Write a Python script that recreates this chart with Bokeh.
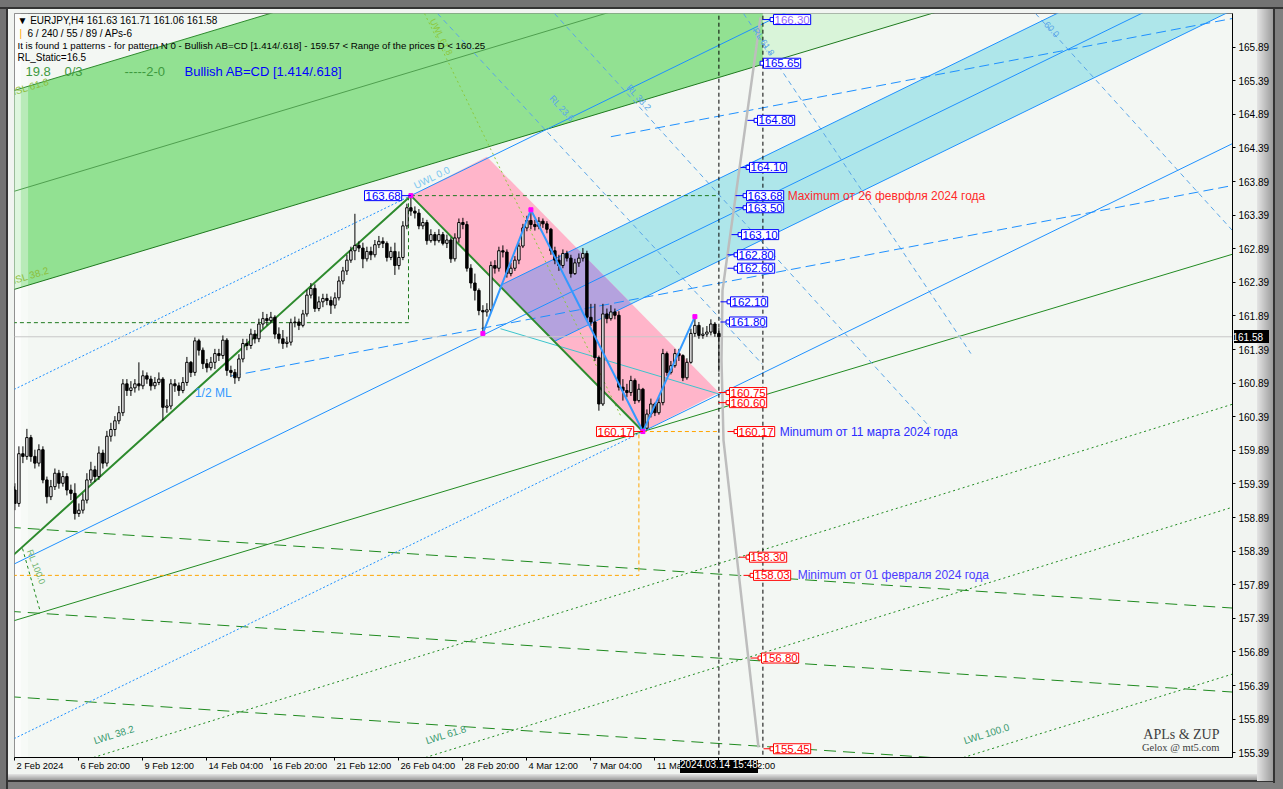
import math
from bokeh.plotting import figure
from bokeh.models import Range1d, FixedTicker, Label, PrintfTickFormatter, LinearAxis
from bokeh.embed import file_html
from bokeh.resources import INLINE

# ---------------- data ----------------
OPEN0 = 159.35
CLOSE = [159.30, 159.10, 159.84, 159.80, 160.08, 159.80, 159.70, 159.90, 159.45, 159.20,
         159.35, 159.55, 159.40, 159.50, 159.30, 159.25, 158.95, 159.00, 159.15, 159.45,
         159.60, 159.50, 159.85, 159.70, 160.10, 160.20, 160.33, 160.45, 160.88, 160.78,
         160.82, 160.88, 160.85, 161.00, 160.95, 160.85, 160.90, 160.95, 160.53, 160.55,
         160.88, 160.85, 160.78, 160.90, 161.20, 161.05, 161.52, 161.38, 161.18, 161.12,
         161.20, 161.33, 161.30, 161.53, 161.08, 161.05, 160.97, 161.25, 161.48, 161.45,
         161.62, 161.55, 161.77, 161.85, 161.82, 161.87, 161.62, 161.55, 161.48, 161.50,
         161.79, 161.80, 161.75, 161.92, 162.20, 162.30, 162.00, 162.10, 162.15, 162.12,
         162.05, 162.16, 162.41, 162.56, 162.72, 162.86, 162.94, 162.90, 162.74, 162.85,
         162.80, 162.95, 163.00, 162.97, 162.76, 162.85, 162.64, 162.76, 163.23, 163.50,
         163.45, 163.42, 163.23, 163.28, 163.01, 163.10, 163.01, 163.10, 162.97, 163.02,
         162.74, 163.05, 163.28, 163.25, 162.60, 162.38, 162.27, 161.97, 161.95, 161.98,
         162.64, 162.60, 162.86, 162.84, 162.52, 162.60, 162.72, 162.93, 163.20, 163.31,
         163.25, 163.22, 163.30, 163.26, 163.18, 162.86, 162.72, 162.64, 162.82, 162.75,
         162.52, 162.68, 162.75, 162.82, 161.87, 161.80, 161.27, 160.58, 161.92, 161.85,
         161.95, 161.90, 160.83, 160.78, 160.75, 160.93, 160.63, 160.80, 160.22, 160.43,
         160.58, 160.45, 160.60, 161.33, 161.05, 161.15, 161.33, 161.30, 160.97, 161.20,
         161.63, 161.75, 161.60, 161.62, 161.65, 161.77, 161.63, 161.58]
HIGH = [159.45, 159.40, 159.95, 159.95, 160.21, 160.12, 159.90, 159.98, 159.95, 159.50,
        159.45, 159.62, 159.60, 159.58, 159.55, 159.38, 159.40, 159.10, 159.25, 159.55,
        159.72, 159.66, 159.95, 159.90, 160.18, 160.30, 160.40, 160.55, 160.95, 160.95,
        160.92, 160.95, 161.20, 161.08, 161.05, 161.00, 160.98, 161.05, 160.98, 160.65,
        160.95, 160.95, 160.90, 160.98, 161.28, 161.22, 161.57, 161.55, 161.42, 161.25,
        161.28, 161.40, 161.40, 161.60, 161.56, 161.15, 161.10, 161.32, 161.55, 161.55,
        161.70, 161.68, 161.85, 161.95, 161.92, 161.95, 161.90, 161.72, 161.68, 161.58,
        161.85, 161.88, 161.85, 161.98, 162.28, 162.38, 162.36, 162.18, 162.22, 162.22,
        162.18, 162.24, 162.48, 162.62, 162.80, 162.92, 163.41, 163.00, 162.98, 162.92,
        162.92, 163.02, 163.08, 163.06, 163.00, 162.92, 162.98, 162.85, 163.30, 163.56,
        163.68, 163.52, 163.48, 163.35, 163.32, 163.18, 163.14, 163.18, 163.14, 163.10,
        163.06, 163.12, 163.34, 163.35, 163.30, 162.66, 162.52, 162.30, 162.05, 162.08,
        162.70, 162.72, 162.92, 162.94, 162.88, 162.68, 162.78, 162.98, 163.26, 163.38,
        163.47, 163.32, 163.36, 163.34, 163.30, 163.20, 162.92, 162.80, 162.88, 162.86,
        162.80, 162.74, 162.82, 162.90, 162.86, 162.07, 162.07, 161.30, 162.07, 162.00,
        162.05, 162.00, 161.96, 160.95, 160.88, 161.00, 160.96, 160.88, 160.82, 160.50,
        160.66, 160.60, 160.68, 161.40, 161.36, 161.22, 161.40, 161.40, 161.32, 161.26,
        161.70, 161.88, 161.80, 161.72, 161.74, 161.84, 161.80, 161.71]
LOW = [159.20, 159.00, 159.05, 159.70, 159.75, 159.72, 159.62, 159.65, 159.40, 159.10,
       159.15, 159.30, 159.32, 159.35, 159.22, 159.15, 158.86, 158.90, 158.95, 159.10,
       159.40, 159.42, 159.45, 159.62, 159.65, 160.02, 160.10, 160.28, 160.40, 160.70,
       160.70, 160.75, 160.78, 160.80, 160.88, 160.78, 160.80, 160.86, 160.33, 160.45,
       160.50, 160.76, 160.70, 160.74, 160.85, 160.98, 161.00, 161.30, 161.10, 161.05,
       161.08, 161.10, 161.22, 161.25, 161.00, 160.98, 160.88, 160.92, 161.20, 161.38,
       161.40, 161.48, 161.50, 161.70, 161.75, 161.78, 161.55, 161.48, 161.40, 161.42,
       161.45, 161.72, 161.68, 161.72, 161.88, 162.15, 161.95, 161.96, 162.02, 162.05,
       161.92, 162.00, 162.12, 162.36, 162.50, 162.68, 162.72, 162.84, 162.60, 162.70,
       162.72, 162.76, 162.90, 162.90, 162.70, 162.72, 162.50, 162.58, 162.72, 163.18,
       163.38, 163.34, 163.18, 163.18, 162.95, 162.98, 162.94, 162.98, 162.94, 162.90,
       162.68, 162.70, 162.98, 163.18, 162.55, 162.30, 162.12, 161.90, 161.63, 161.88,
       161.94, 162.52, 162.55, 162.76, 162.46, 162.48, 162.56, 162.66, 162.90, 163.15,
       163.18, 163.16, 163.18, 163.20, 163.12, 162.80, 162.66, 162.56, 162.60, 162.70,
       162.46, 162.50, 162.62, 162.70, 161.82, 161.74, 161.22, 160.48, 160.55, 161.78,
       161.82, 161.84, 160.78, 160.63, 160.68, 160.70, 160.58, 160.60, 160.17, 160.20,
       160.38, 160.40, 160.42, 160.56, 161.00, 161.02, 161.12, 161.22, 160.92, 160.94,
       161.18, 161.58, 161.55, 161.55, 161.58, 161.60, 161.58, 161.06]

TIME_TICK_BARS = [1, 17, 33, 49, 65, 81, 97, 113, 129, 145, 161, 177]
TIME_TICK_LABELS = ["2 Feb 2024", "6 Feb 20:00", "9 Feb 12:00", "14 Feb 04:00", "16 Feb 20:00",
                    "21 Feb 12:00", "26 Feb 04:00", "28 Feb 20:00", "4 Mar 12:00", "7 Mar 04:00",
                    "11 Mar 20:00", "14 Mar 12:00"]
CROSSHAIR_BAR = 177
CROSSHAIR_TEXT = "2024.03.14 15:48"
PRICE_TICKS = [155.39, 155.89, 156.39, 156.89, 157.39, 157.89, 158.39, 158.89, 159.39, 159.89,
               160.39, 160.89, 161.39, 161.89, 162.39, 162.89, 163.39, 163.89, 164.39, 164.89,
               165.39, 165.89]
BID = 161.58

# pattern pivots (bar index, price)
PIV_O = (-5, 158.03)
PIV_X = (100, 163.68)
PIV_A = (118, 161.63)
PIV_B = (130, 163.47)
PIV_C = (158, 160.17)
PIV_D = (171, 161.88)
CHANNEL_END = (177, 160.75)
BAND_LEVEL = 0.236

# green sliding lines
ISL_SLOPE = 0.0179
ISL_AT_BAR0 = [165.23, 163.73, 162.27]
LWL_DASH_SLOPE = -0.00393
LWL_DASH_AT_BAR0 = [158.744, 157.494, 156.224]
LWL_DOT_SLOPE = 0.01846
LWL_DOT_BASE_BARS = [20.65, 103.65, 238.15]
LWL_DOT_BASE_PRICE = 155.32
LWL_NAMES = ["LWL 38.2", "LWL 61.8", "LWL 100.0"]

SCHIFF_SLOPE = 0.01132
SCHIFF_ANCHOR_BARS = [58, 160]
SCHIFF_ANCHOR_PRICES = [161.03, 164.67]
SCHIFF_START_BARS = [55, 150]

# reaction lines (start bar, start price, end bar, end price)
RL_NAMES = ["RL 23.6", "RL 38.2", "RL 61.8", "60.0"]
RL_START_BARS = [106.65, 135.9, 183.15, 256.15]
RL_START_PRICES = [166.39, 166.39, 166.39, 166.39]
RL_END_BARS = [187.9, 230.0, 240.0, 305.4]
RL_END_PRICES = [161.17, 160.22, 161.33, 163.16]
RL_LABEL_BARS = [134.15, 153.4, 184.95, 258.15]
RL_LABEL_PRICES = [165.10, 165.26, 166.12, 166.22]

# green reaction line at far left
RL100_BARS = [2.9, 7.4]
RL100_PRICES = [158.43, 157.48]

# upper warning line (dotted yellow-green)
UWL_BARS = [103.4, 152.4]
UWL_PRICES = [166.39, 160.41]

# teal line inside the channel
TEAL_BARS = [122.4, 176.9]
TEAL_PRICES = [161.70, 160.73]

# time-price curve
CURVE_BARS = [187.4, 177.9, 177.65, 178.15, 186.9]
CURVE_PRICES = [166.33, 162.27, 161.23, 160.04, 155.47]

# right-hand price tags
TAG_PRICES = [166.30, 165.65, 164.80, 164.10, 163.68, 163.50, 163.10, 162.80, 162.60,
              162.10, 161.80, 160.75, 160.60, 160.17, 158.30, 158.03, 156.80, 155.45]
TAG_BOX_BARS = [190.65, 188.15, 186.65, 184.65, 183.9, 183.9, 182.65, 181.65, 181.65,
                179.9, 179.65, 179.65, 179.65, 181.65, 184.65, 185.65, 187.65, 190.65]
TAG_FROM_BARS = [187.9, 187.9, 184.15, 182.4, 181.15, 181.15, 180.15, 179.15, 179.15,
                 177.4, 177.4, 176.9, 176.9, 179.15, 182.15, 183.15, 184.9, 188.15]
VLINE_BARS = [177, 188]

# ---------------- figure ----------------
W, H = 1283, 789
FL, FT, FR, FB = 14, 13, 1232, 757          # frame edges in page pixels
X0, X1 = 0.9, 305.4
Y0, Y1 = 155.32, 166.39

# window chrome painted behind the (transparent) canvas border
CHROME = ", ".join([
    "linear-gradient(#000,#000) 680px 760px / 78px 13px no-repeat",
    "linear-gradient(#000,#000) 1234px 330px / 35px 13px no-repeat",
    "linear-gradient(#737373,#737373) 0 0 / 100% 7px no-repeat",
    "linear-gradient(#333,#333) 0 7px / 100% 2px no-repeat",
    "linear-gradient(#737373,#737373) 0 0 / 6px 100% no-repeat",
    "linear-gradient(#333,#333) 6px 7px / 2px 100% no-repeat",
    "linear-gradient(to right,#E4E4E4,#9C9C9C) 1257px 9px / 16px 772px no-repeat",
    "linear-gradient(#333,#333) 1273px 9px / 2px 774px no-repeat",
    "linear-gradient(#808080,#808080) 1275px 0 / 8px 100% no-repeat",
    "linear-gradient(to bottom,#E4E4E4,#9C9C9C) 8px 774px / 1265px 6px no-repeat",
    "linear-gradient(#333,#333) 6px 780px / 1269px 2px no-repeat",
    "linear-gradient(#808080,#808080) 0 782px / 100% 7px no-repeat",
    "#F1F4F1",
])

p = figure(width=W, height=H, x_range=Range1d(X0, X1), y_range=Range1d(Y0, Y1),
           output_backend="svg", toolbar_location=None, y_axis_location="right",
           min_border_left=FL, min_border_top=FT, min_border_right=W - FR, min_border_bottom=H - FB,
           background_fill_color="#F3F7F3", border_fill_alpha=0.0,
           styles={"background": CHROME})
p.xgrid.visible = False
p.ygrid.visible = False
p.outline_line_color = "#7A7A7A"

AF = "Liberation Sans"
ya = p.yaxis[0]
ya.ticker = FixedTicker(ticks=PRICE_TICKS)
ya.formatter = PrintfTickFormatter(format="%.2f")
ya.major_tick_in = 0
ya.major_tick_out = 3
ya.minor_tick_line_color = None
ya.major_label_standoff = 3
ya.major_label_text_font = AF
ya.major_label_text_font_size = "10px"
ya.major_label_text_color = "#000000"
ya.axis_line_color = "#000000"

bid_axis = LinearAxis(ticker=FixedTicker(ticks=[BID]), formatter=PrintfTickFormatter(format="%.2f"),
                      axis_line_color=None, major_tick_line_color=None, minor_tick_line_color=None,
                      major_label_standoff=-46, major_label_text_font=AF,
                      major_label_text_font_size="10px", major_label_text_color="#FFFFFF")
p.add_layout(bid_axis, "right")

xa = p.xaxis[0]
xa.ticker = FixedTicker(ticks=TIME_TICK_BARS)
xa.major_label_overrides = {t: "" for t in TIME_TICK_BARS}
xa.major_label_text_font_size = "1px"
xa.major_label_standoff = 0
xa.major_tick_in = 0
xa.major_tick_out = 3
xa.minor_tick_line_color = None
xa.axis_line_color = "#000000"

CW = {"0": .556, "1": .556, "2": .556, "3": .556, "4": .556, "5": .556, "6": .556, "7": .556,
      "8": .556, "9": .556, " ": .278, ":": .278, "F": .611, "e": .556, "b": .556, "M": .833,
      "a": .556, "r": .333}
TFS = 9.3
centers = [round(tb + (1.5 + sum(CW.get(ch, .55) for ch in tl) * TFS / 2) / 4, 3)
           for tb, tl in zip(TIME_TICK_BARS, TIME_TICK_LABELS)]
date_axis = LinearAxis(ticker=FixedTicker(ticks=centers),
                       major_label_overrides={c: tl for c, tl in zip(centers, TIME_TICK_LABELS)},
                       axis_line_color=None, major_tick_line_color=None, minor_tick_line_color=None,
                       major_label_standoff=-6, major_label_text_font=AF,
                       major_label_text_font_size=f"{TFS}px", major_label_text_color="#000000")
p.add_layout(date_axis, "below")
cross_axis = LinearAxis(ticker=FixedTicker(ticks=[CROSSHAIR_BAR]),
                        major_label_overrides={CROSSHAIR_BAR: CROSSHAIR_TEXT},
                        axis_line_color=None, major_tick_line_color=None, minor_tick_line_color=None,
                        major_label_standoff=-21, major_label_text_font=AF,
                        major_label_text_font_size="10px", major_label_text_color="#FFFFFF")
p.add_layout(cross_axis, "below")


def sx(px):
    return px - FL


def sy(py):
    return FB - py


FAR = 330.0
LEFT = -10.0


def at(pt, k, b):
    return pt[1] + k * (b - pt[0])


def clip(poly, f):
    out = []
    n = len(poly)
    for i in range(n):
        P, Q = poly[i], poly[(i + 1) % n]
        fp, fq = f(P), f(Q)
        if fp >= 0:
            out.append(P)
        if (fp >= 0) != (fq >= 0):
            t = fp / (fp - fq)
            out.append((P[0] + t * (Q[0] - P[0]), P[1] + t * (Q[1] - P[1])))
    return out


# --- green ISL band ---
isl_u = lambda b: ISL_AT_BAR0[0] + ISL_SLOPE * b
isl_m = lambda b: ISL_AT_BAR0[1] + ISL_SLOPE * b
isl_l = lambda b: ISL_AT_BAR0[2] + ISL_SLOPE * b
split = VLINE_BARS[1]
p.patch([LEFT, split, split, LEFT], [isl_u(LEFT), isl_u(split), isl_l(split), isl_l(LEFT)],
        fill_color="#92E192", line_color=None)
p.patch([split, FAR, FAR, split], [isl_u(split), isl_u(FAR), isl_l(FAR), isl_l(split)],
        fill_color="#D9F4D9", line_color=None)
# pale strip along the left edge
p.quad(left=[X0, X0 + 1.6], right=[X0 + 1.6, X0 + 3.4], bottom=[Y0, Y0], top=[Y1, Y1],
       fill_color="#FFFFFF", fill_alpha=[0.7, 0.35], line_color=None)
p.line([LEFT, FAR], [isl_u(LEFT), isl_u(FAR)], line_color="#2E8B2E", line_width=1)
p.line([LEFT, FAR], [isl_m(LEFT), isl_m(FAR)], line_color="#4F9F4F", line_width=1)
p.line([LEFT, FAR], [isl_l(LEFT), isl_l(FAR)], line_color="#1F7A1F", line_width=1)

# --- pitchfork geometry ---
mid = ((PIV_X[0] + PIV_C[0]) / 2, (PIV_X[1] + PIV_C[1]) / 2)
k = (mid[1] - PIV_O[1]) / (mid[0] - PIV_O[0])
med = lambda b: at(mid, k, b)
off = PIV_X[1] - med(PIV_X[0])
ul = lambda b: med(b) + BAND_LEVEL * off
ll = lambda b: med(b) - BAND_LEVEL * off
mxc = (PIV_C[1] - PIV_X[1]) / (PIV_C[0] - PIV_X[0])
xc = lambda b: at(PIV_X, mxc, b)


def meet(fa):
    lo, hi = PIV_X[0], 300.0
    for _ in range(60):
        m = (lo + hi) / 2
        if (fa(lo) - xc(lo)) * (fa(m) - xc(m)) <= 0:
            hi = m
        else:
            lo = m
    return (lo + hi) / 2


b_ul, b_ll = meet(ul), meet(ll)
band = [(b_ul, ul(b_ul)), (FAR, ul(FAR)), (FAR, ll(FAR)), (b_ll, ll(b_ll))]
p.patch([q[0] for q in band], [q[1] for q in band], fill_color="#AEE6EA", line_color=None)

# --- pink channel ---
P2 = (PIV_X[0] + CHANNEL_END[0] - PIV_C[0], PIV_X[1] + CHANNEL_END[1] - PIV_C[1])
pink = [PIV_X, P2, CHANNEL_END, PIV_C]
p.patch([q[0] for q in pink], [q[1] for q in pink], fill_color="#FFB5CA", line_color=None)
ov = clip(pink, lambda q: ul(q[0]) - q[1])
ov = clip(ov, lambda q: q[1] - ll(q[0]))
if len(ov) >= 3:
    p.patch([q[0] for q in ov], [q[1] for q in ov], fill_color="#B4A2DE", line_color=None)
p.line(TEAL_BARS, TEAL_PRICES, line_color="#3CC4CC", line_width=1)

# --- dashed green LWL lines ---
for a0 in LWL_DASH_AT_BAR0:
    p.line([LEFT, FAR], [a0 + LWL_DASH_SLOPE * LEFT, a0 + LWL_DASH_SLOPE * FAR],
           line_color="#1F8A1F", line_width=1, line_dash="12 7")
for b0 in LWL_DOT_BASE_BARS:
    p.line([b0, FAR], [LWL_DOT_BASE_PRICE, LWL_DOT_BASE_PRICE + LWL_DOT_SLOPE * (FAR - b0)],
           line_color="#1F8A1F", line_width=1, line_dash="2 3")
p.line(RL100_BARS, RL100_PRICES, line_color="#1F8A1F", line_width=1, line_dash="3 3")

# line through C parallel to ISL
p.line([LEFT, FAR], [at(PIV_C, ISL_SLOPE, LEFT), at(PIV_C, ISL_SLOPE, FAR)],
       line_color="#228B22", line_width=1)

# upper warning line
p.line(UWL_BARS, UWL_PRICES, line_color="#8CC83C", line_width=1, line_dash="2 3")

# reaction lines
for sb, sp, eb, ep in zip(RL_START_BARS, RL_START_PRICES, RL_END_BARS, RL_END_PRICES):
    p.line([sb, eb], [sp, ep], line_color="#5AA5E8", line_width=1, line_dash="5 4")

# --- pitchfork lines ---
BLUE = "#1E90FF"
p.line([LEFT, FAR], [med(LEFT), med(FAR)], line_color=BLUE, line_width=1)
p.line([LEFT, PIV_X[0]], [at(PIV_X, k, LEFT), PIV_X[1]], line_color=BLUE, line_width=1, line_dash="2 2")
p.line([PIV_X[0], FAR], [PIV_X[1], at(PIV_X, k, FAR)], line_color=BLUE, line_width=1)
p.line([LEFT, PIV_C[0]], [at(PIV_C, k, LEFT), PIV_C[1]], line_color=BLUE, line_width=1, line_dash="2 2")
p.line([PIV_C[0], FAR], [PIV_C[1], at(PIV_C, k, FAR)], line_color=BLUE, line_width=1)
p.line([b_ul, FAR], [ul(b_ul), ul(FAR)], line_color=BLUE, line_width=1)
p.line([b_ll, FAR], [ll(b_ll), ll(FAR)], line_color=BLUE, line_width=1)

for ab, ap, sb in zip(SCHIFF_ANCHOR_BARS, SCHIFF_ANCHOR_PRICES, SCHIFF_START_BARS):
    p.line([sb, FAR], [ap + SCHIFF_SLOPE * (sb - ab), ap + SCHIFF_SLOPE * (FAR - ab)],
           line_color=BLUE, line_width=1, line_dash="10 5")

# --- helper boxes / levels ---
DG = "#1F7A1F"
p.line([LEFT, PIV_X[0] - 0.6, PIV_X[0] - 0.6], [161.79, 161.79, PIV_X[1]], line_color=DG,
       line_dash="4 3", line_width=1)
p.line([PIV_X[0], VLINE_BARS[0]], [PIV_X[1], PIV_X[1]], line_color=DG, line_dash="4 3", line_width=1)
OR = "#FFA500"
p.line([LEFT, PIV_C[0] - 1, PIV_C[0] - 1], [PIV_O[1], PIV_O[1], PIV_C[1]], line_color=OR,
       line_dash="4 3", line_width=1)
p.line([PIV_C[0], VLINE_BARS[0] - 0.5], [PIV_C[1], PIV_C[1]], line_color=OR, line_dash="4 3", line_width=1)

# thick ZUP lines
p.line([PIV_O[0], PIV_X[0], PIV_C[0]], [PIV_O[1], PIV_X[1], PIV_C[1]], line_color="#2E8B2E", line_width=2)

# bid line
p.line([LEFT, FAR], [BID, BID], line_color="#C8C8C8", line_width=1)

# vertical dashed lines
for vb in VLINE_BARS:
    p.line([vb, vb], [Y0 - 1, Y1 + 1], line_color="#000000", line_dash="4 3", line_width=1)

# time-price curve
p.line(CURVE_BARS, CURVE_PRICES, line_color="#BDBDBD", line_width=2.5)

# --- candles ---
n = len(CLOSE)
opens = [OPEN0] + CLOSE[:-1]
bars = list(range(n))
hi = [max(HIGH[i], opens[i], CLOSE[i]) for i in bars]
lo = [min(LOW[i], opens[i], CLOSE[i]) for i in bars]
p.segment(bars, hi, bars, lo, line_color="#000000", line_width=1)
up = [i for i in bars if CLOSE[i] >= opens[i]]
dn = [i for i in bars if CLOSE[i] < opens[i]]
p.vbar(x=up, width=0.6, top=[max(CLOSE[i], opens[i] + 0.006) for i in up], bottom=[opens[i] for i in up],
       fill_color="#FFFFFF", line_color="#000000", line_width=1)
p.vbar(x=dn, width=0.6, top=[opens[i] for i in dn], bottom=[CLOSE[i] for i in dn],
       fill_color="#000000", line_color="#000000", line_width=1)

# zigzag A-B-C-D
p.line([PIV_A[0], PIV_B[0], PIV_C[0], PIV_D[0]], [PIV_A[1], PIV_B[1], PIV_C[1], PIV_D[1]],
       line_color="#3399FF", line_width=2)
p.scatter([PIV_X[0], PIV_A[0], PIV_B[0], PIV_C[0], PIV_D[0]],
          [PIV_X[1], PIV_A[1], PIV_B[1], PIV_C[1], PIV_D[1]],
          marker="square", size=4, fill_color="#FF00FF", line_color="#FF00FF")

# --- price tags ---
TF = "Liberation Sans"
for pr, bb, fb in zip(TAG_PRICES, TAG_BOX_BARS, TAG_FROM_BARS):
    col = "#0000FF" if pr >= 161.8 else "#FF0000"
    tcol = "#9966FF" if pr > 166 else col
    p.line([fb, bb], [pr, pr], line_color=col, line_width=1)
    p.scatter([bb - 0.35], [pr], marker="square", size=4, fill_color="#FFFFFF", line_color=col)
    p.add_layout(Label(x=bb, y=pr, text=f"{pr:.2f}", text_align="left", text_baseline="middle",
                       text_font=TF, text_font_size="11.5px", text_color=tcol,
                       border_line_color=col, border_line_width=1, background_fill_color="#FFFFFF",
                       padding=1))

p.add_layout(Label(x=PIV_X[0] - 2.3, y=PIV_X[1], text="163.68", text_align="right", text_baseline="middle",
                   text_font=TF, text_font_size="11.5px", text_color="#0000FF",
                   border_line_color="#0000FF", background_fill_color="#FFFFFF", padding=1))
p.line([PIV_X[0] - 2.3, PIV_X[0]], [PIV_X[1], PIV_X[1]], line_color="#0000FF")
p.add_layout(Label(x=PIV_C[0] - 2.3, y=PIV_C[1], text="160.17", text_align="right", text_baseline="middle",
                   text_font=TF, text_font_size="11.5px", text_color="#FF0000",
                   border_line_color="#FF0000", background_fill_color="#FFFFFF", padding=1))
p.line([PIV_C[0] - 2.3, PIV_C[0]], [PIV_C[1], PIV_C[1]], line_color="#FF0000")

# annotations
p.add_layout(Label(x=194.2, y=PIV_X[1], text="Maximum от 26 феврфля 2024 года", text_baseline="middle",
                   text_font=TF, text_font_size="12px", text_color="#FF2A2A"))
p.add_layout(Label(x=192.2, y=PIV_C[1], text="Minumum от 11 марта 2024 года", text_baseline="middle",
                   text_font=TF, text_font_size="12px", text_color="#2B2BFF"))
p.add_layout(Label(x=196.7, y=PIV_O[1], text="Minimum от 01 февраля 2024 года", text_baseline="middle",
                   text_font=TF, text_font_size="12px", text_color="#4B3BFF"))
p.add_layout(Label(x=46, y=160.75, text="1/2 ML", text_baseline="middle",
                   text_font=TF, text_font_size="12px", text_color="#3399FF"))

for b0, nm in zip(LWL_DOT_BASE_BARS, LWL_NAMES):
    p.add_layout(Label(x=b0 + 0.5, y=LWL_DOT_BASE_PRICE + 0.17, text=nm, angle=math.atan(0.31),
                       text_font=TF, text_font_size="10px", text_color="#3A9A70"))
p.add_layout(Label(x=0.9, y=isl_l(0.9) + 0.05, text="ISL 38.2", angle=math.atan(0.3),
                   text_font=TF, text_font_size="10px", text_color="#8DBE3C"))
p.add_layout(Label(x=0.9, y=isl_u(0.9) - 0.1, text="ISL 61.8", angle=math.atan(0.3),
                   text_font=TF, text_font_size="10px", text_color="#8DBE3C"))
p.add_layout(Label(x=101.5, y=163.75, text="UWL 0.0", angle=math.atan(0.49),
                   text_font=TF, text_font_size="10px", text_color="#7EC8F0"))
p.add_layout(Label(x=UWL_BARS[0] + 0.8, y=UWL_PRICES[0] - 0.12, text="UWL 61.8", angle=-1.1,
                   text_font=TF, text_font_size="9px", text_color="#8CC83C"))
p.add_layout(Label(x=RL100_BARS[0] + 0.6, y=RL100_PRICES[0] - 0.05, text="RL 100.0", angle=-1.2,
                   text_font=TF, text_font_size="9px", text_color="#6DB36D"))
for bx, py, nm in zip(RL_LABEL_BARS, RL_LABEL_PRICES, RL_NAMES):
    ang = -0.98 if nm == "RL 61.8" else -0.83
    p.add_layout(Label(x=bx, y=py, text=nm, angle=ang, text_font=TF, text_font_size="9px",
                       text_color="#5AA5E8"))

# header
HF = "Liberation Sans"
p.add_layout(Label(x=sx(17), y=sy(20), x_units="screen", y_units="screen",
                   text="▼  EURJPY,H4  161.63 161.71 161.06 161.58",
                   text_baseline="middle", text_font=HF, text_font_size="10px", text_color="#000000"))
p.add_layout(Label(x=sx(19), y=sy(33), x_units="screen", y_units="screen", text="|",
                   text_baseline="middle", text_font=HF, text_font_size="10px", text_color="#FFA500"))
p.add_layout(Label(x=sx(27), y=sy(33), x_units="screen", y_units="screen", text="6 / 240 / 55 / 89 / APs-6",
                   text_baseline="middle", text_font=HF, text_font_size="10px", text_color="#000000"))
p.add_layout(Label(x=sx(17), y=sy(45), x_units="screen", y_units="screen",
                   text="It is found 1 patterns  -  for pattern N 0 - Bullish AB=CD [1.414/.618] - 159.57 < Range of the prices D < 160.25",
                   text_baseline="middle", text_font=HF, text_font_size="9.7px", text_color="#000000"))
p.add_layout(Label(x=sx(17), y=sy(57), x_units="screen", y_units="screen", text="RL_Static=16.5",
                   text_baseline="middle", text_font=HF, text_font_size="10px", text_color="#000000"))
for tx, t in [(25, "19.8"), (64, "0/3"), (124, "-----2-0")]:
    p.add_layout(Label(x=sx(tx), y=sy(71), x_units="screen", y_units="screen", text=t,
                       text_baseline="middle", text_font=HF, text_font_size="13px", text_color="#3E9A3E"))
p.add_layout(Label(x=sx(184), y=sy(71), x_units="screen", y_units="screen", text="Bullish AB=CD [1.414/.618]",
                   text_baseline="middle", text_font=HF, text_font_size="13px", text_color="#0000FF"))

# watermark
p.add_layout(Label(x=sx(1219), y=sy(734), x_units="screen", y_units="screen", text="APLs & ZUP",
                   text_align="right", text_baseline="middle", text_font="Liberation Serif",
                   text_font_size="14px", text_color="#404040"))
p.add_layout(Label(x=sx(1219), y=sy(747), x_units="screen", y_units="screen", text="Gelox @ mt5.com",
                   text_align="right", text_baseline="middle", text_font="Liberation Serif",
                   text_font_size="10.5px", text_color="#404040"))

open("out.html", "w").write(file_html(p, INLINE))
